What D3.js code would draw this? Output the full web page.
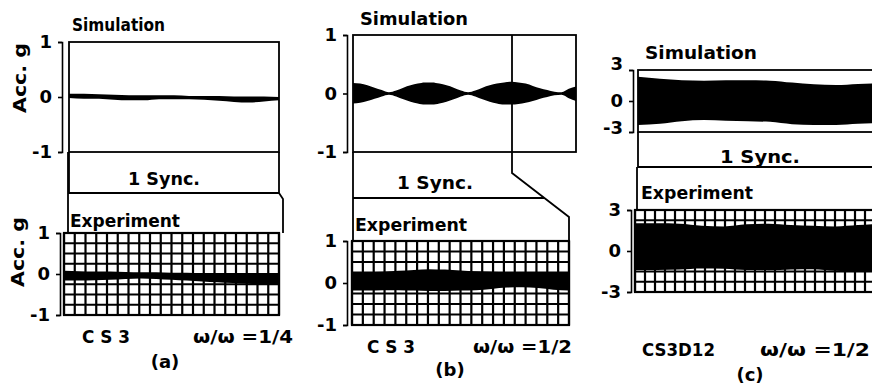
<!DOCTYPE html>
<html>
<head>
<meta charset="utf-8">
<script src="https://cdn.jsdelivr.net/npm/d3@7"></script>
<style>
  body { margin: 0; background: #fff; }
  svg { display: block; }
  text { font-family: "DejaVu Sans", sans-serif; font-weight: bold; fill: #000; }
</style>
</head>
<body>
<div id="chart"></div>
<script>
// envelope of the acceleration records (g), left to right
const simA_up = [0.06, 0.06, 0.05, 0.04, 0.03, 0.03, 0.03, 0.03, 0.02, 0.02, 0.02, 0.01, 0.01, 0.01, 0.00];
const simA_lo = [-0.02, -0.03, -0.03, -0.05, -0.06, -0.06, -0.04, -0.04, -0.04, -0.05, -0.07, -0.09, -0.10, -0.08, -0.06];
const expA_up = [0.08, 0.07, 0.06, 0.06, 0.05, 0.04, 0.04, 0.03, 0.03, 0.02, 0.01, 0.00, -0.01, -0.02, -0.02];
const expA_lo = [-0.16, -0.16, -0.15, -0.14, -0.12, -0.11, -0.12, -0.14, -0.16, -0.18, -0.20, -0.22, -0.24, -0.25, -0.25];

const simB_up = [0.18, 0.17, 0.14, 0.10, 0.06, 0.02, 0.05, 0.10, 0.14, 0.17, 0.19, 0.19, 0.17, 0.14, 0.10, 0.05,
                 0.02, 0.05, 0.10, 0.14, 0.17, 0.19, 0.20, 0.19, 0.17, 0.13, 0.09, 0.06, 0.03, 0.02, 0.08, 0.12];
const simB_lo = [-0.17, -0.16, -0.13, -0.09, -0.05, -0.02, -0.05, -0.10, -0.14, -0.17, -0.19, -0.19, -0.17, -0.14, -0.10, -0.05,
                 -0.02, -0.05, -0.10, -0.14, -0.17, -0.19, -0.19, -0.18, -0.16, -0.13, -0.09, -0.06, -0.03, -0.02, -0.08, -0.13];
const expB_up = [0.26, 0.26, 0.27, 0.29, 0.31, 0.33, 0.32, 0.30, 0.28, 0.27, 0.26, 0.25, 0.25, 0.24, 0.24];
const expB_lo = [-0.18, -0.18, -0.17, -0.17, -0.18, -0.19, -0.19, -0.18, -0.17, -0.14, -0.11, -0.10, -0.12, -0.16, -0.18];

const simC_up = [2.35, 2.15, 2.02, 1.97, 2.02, 2.00, 1.97, 1.78, 1.62, 1.55, 1.65, 1.72];
const simC_lo = [-2.32, -2.20, -1.95, -1.85, -1.90, -1.97, -2.02, -2.25, -2.32, -2.32, -2.20, -2.15];
const expC_up = [2.03, 2.03, 2.00, 1.85, 1.80, 1.95, 2.00, 1.90, 1.85, 1.80, 1.90, 2.00];
const expC_lo = [-1.39, -1.39, -1.35, -1.28, -1.30, -1.39, -1.40, -1.35, -1.33, -1.45, -1.50, -1.46];

const ticksA = [-1, 0, 1], ticksB = [-1, 0, 1], ticksC = [-3, 0, 3];
const syncLabel = "1 Sync.";
const caseLabels = ["C S 3", "C S 3", "CS3D12"];
const ratioLabels = ["ω/ω  =1/4", "ω/ω  =1/2", "ω/ω  =1/2"];
const panelLabels = ["(a)", "(b)", "(c)"];

const svg = d3.select("#chart").append("svg").attr("width", 872).attr("height", 388);

function txt(s, x, y, size, o = {}) {
    const t = svg.append("text").attr("x", x).attr("y", y).attr("dy", "0.35em")
        .attr("font-size", size).text(s);
    if (o.anchor) t.attr("text-anchor", o.anchor);
    if (o.len) t.attr("textLength", o.len).attr("lengthAdjust", "spacingAndGlyphs");
    if (o.rot) t.attr("transform", `rotate(-90,${x},${y})`);
    return t;
}

function line(d) {
    svg.append("path").attr("d", d).attr("fill", "none").attr("stroke", "#000").attr("stroke-width", 1.8);
}

// one oscillograph record: box (or grid paper), envelope band and bracket axis
function record(p, up, lo, ticks) {
    const max = ticks[ticks.length - 1];
    const x = d3.scaleLinear().domain([0, up.length - 1]).range([p.left, p.bandRight || p.right]);
    const y = d3.scaleLinear().domain([-max, max]).range([p.bottom, p.top]);
    const g = svg.append("g");

    if (p.cols) {
        const gx = d3.scaleLinear().domain([0, p.cols]).range([p.left, p.right]);
        g.selectAll(".vl").data(d3.range(p.cols + 1)).enter().append("line")
            .attr("x1", d => gx(d)).attr("x2", d => gx(d))
            .attr("y1", p.top).attr("y2", p.bottom)
            .attr("stroke", "#000").attr("stroke-width", 2.2);
        g.selectAll(".hl").data(d3.range(9).map(i => -max + i * max / 4)).enter().append("line")
            .attr("x1", p.left).attr("x2", p.right)
            .attr("y1", d => y(d)).attr("y2", d => y(d))
            .attr("stroke", "#000").attr("stroke-width", 2.2);
    }
    g.append("rect").attr("x", p.left).attr("y", p.top)
        .attr("width", p.right - p.left).attr("height", p.bottom - p.top)
        .attr("fill", "none").attr("stroke", "#000").attr("stroke-width", p.cols ? 2.2 : 1.8);

    const area = d3.area().curve(d3.curveMonotoneX)
        .x((d, i) => x(i)).y0((d, i) => y(lo[i])).y1(d => y(d));
    g.append("path").datum(up).attr("d", area).attr("fill", "#000");

    const ax = svg.append("g").attr("transform", `translate(${p.axisX},0)`)
        .call(d3.axisLeft(y).tickValues(ticks).tickSize(4).tickSizeOuter(4).tickPadding(6)
            .tickFormat(d => d < 0 ? "-" + (-d) : "" + d));
    ax.attr("font-size", 18).attr("font-family", "DejaVu Sans, sans-serif").attr("font-weight", "bold");
    ax.selectAll("path, line").attr("stroke", "#000").attr("stroke-width", 1.6);
    // hand-lettered labels sit a little off their ticks in some panels
    if (p.shift) ax.selectAll(".tick text").attr("transform", (d, i) => `translate(0,${p.shift[i]})`);
}

// ---- (a)
record({ left: 69, right: 279, top: 42, bottom: 152, axisX: 62 }, simA_up, simA_lo, ticksA);
record({ left: 64, right: 279, top: 233, bottom: 315, axisX: 60, cols: 20 }, expA_up, expA_lo, ticksA);
line("M69,152V193H279V152");
line("M68,152V233");
line("M279,193L283,199V233");
txt("Simulation", 72, 25, 17, { len: 93 });
txt("Acc. g", 20, 78, 17, { anchor: "middle", rot: true, len: 70 });
txt("Acc. g", 18, 252, 17, { anchor: "middle", rot: true, len: 70 });
txt(syncLabel, 164, 179, 18, { anchor: "middle", len: 72 });
txt("Experiment", 70, 221, 17, { len: 110 });
txt(caseLabels[0], 82, 337, 17, { len: 48 });
txt(ratioLabels[0], 193, 337, 17, { len: 100 });
txt(panelLabels[0], 165, 362, 18, { anchor: "middle" });

// ---- (b)
record({ left: 353, right: 576, top: 35, bottom: 152, axisX: 347 }, simB_up, simB_lo, ticksB);
record({ left: 352, right: 569, top: 241, bottom: 325, axisX: 347, cols: 20 }, expB_up, expB_lo, ticksB);
line("M512,35V173L569,217V241");
line("M353,152V241");
line("M353,198H544");
txt("Simulation", 360, 19, 18, { len: 108 });
txt(syncLabel, 435, 183, 18, { anchor: "middle", len: 76 });
txt("Experiment", 355, 225, 17, { len: 112 });
txt(caseLabels[1], 367, 347, 17, { len: 48 });
txt(ratioLabels[1], 473, 347, 17, { len: 99 });
txt(panelLabels[1], 450, 370, 18, { anchor: "middle" });

// ---- (c)
record({ left: 638, right: 885, bandRight: 880, top: 70, bottom: 132, axisX: 633, shift: [-4, 0, -6] },
    simC_up, simC_lo, ticksC);
record({ left: 635, right: 885, bandRight: 880, top: 210, bottom: 292, axisX: 631, cols: 25 }, expC_up, expC_lo, ticksC);
line("M638,132V167H885");
line("M637,167V210");
txt("Simulation", 645, 53, 18, { len: 112 });
txt(syncLabel, 760, 157, 18, { anchor: "middle", len: 80 });
txt("Experiment", 641, 193, 17, { len: 112 });
txt(caseLabels[2], 642, 350, 17, { len: 73 });
txt(ratioLabels[2], 760, 350, 17, { len: 110 });
txt(panelLabels[2], 750, 375, 18, { anchor: "middle" });
</script>
</body>
</html>
